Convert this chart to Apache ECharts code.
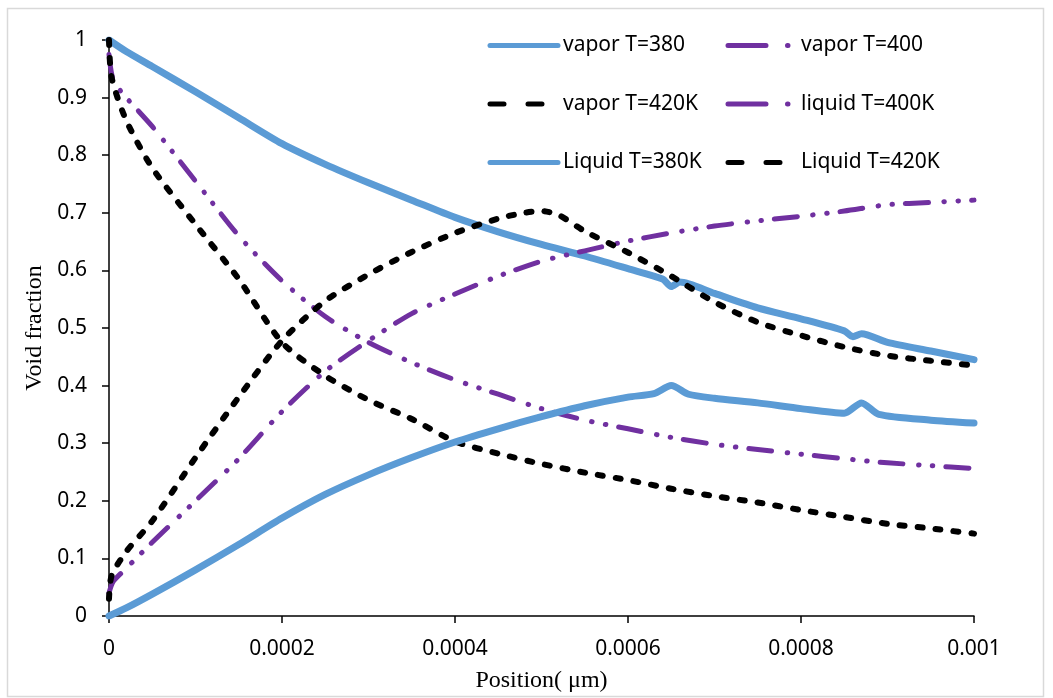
<!DOCTYPE html>
<html>
<head>
<meta charset="utf-8">
<script src="https://cdn.jsdelivr.net/npm/echarts@6/dist/echarts.min.js"></script>
<style>
html,body{margin:0;padding:0;background:#fff;}
#chart{width:1053px;height:698px;}
</style>
</head>
<body>
<div id="chart"></div>
<script>
// ---- data ----
const xTickLabels = ['0', '0.0002', '0.0004', '0.0006', '0.0008', '0.001'];
const yTickLabels = ['0', '0.1', '0.2', '0.3', '0.4', '0.5', '0.6', '0.7', '0.8', '0.9', '1'];

const vapor380X = [0, 0.00002, 0.00005, 0.0001, 0.00015, 0.0002, 0.00025, 0.0003, 0.00035, 0.0004, 0.00045, 0.0005, 0.00055, 0.0006, 0.00064, 0.00065, 0.00066, 0.0007, 0.00075, 0.0008, 0.00085, 0.00086, 0.00087, 0.0009, 0.00095, 0.001];
const vapor380Y = [1.0, 0.98, 0.954, 0.91, 0.865, 0.82, 0.784, 0.752, 0.722, 0.692, 0.667, 0.645, 0.625, 0.603, 0.585, 0.572, 0.58, 0.56, 0.535, 0.516, 0.495, 0.485, 0.49, 0.475, 0.46, 0.445];

const liquid380X = [0, 0.00002, 0.00005, 0.0001, 0.00015, 0.0002, 0.00025, 0.0003, 0.00035, 0.0004, 0.00045, 0.0005, 0.00055, 0.0006, 0.00063, 0.00065, 0.00067, 0.0007, 0.00075, 0.0008, 0.00085, 0.00087, 0.00089, 0.00095, 0.001];
const liquid380Y = [0, 0.014, 0.038, 0.08, 0.124, 0.17, 0.211, 0.245, 0.275, 0.302, 0.325, 0.346, 0.365, 0.38, 0.386, 0.4, 0.385, 0.378, 0.37, 0.36, 0.352, 0.37, 0.35, 0.34, 0.335];

const vapor400X = [0, 0.000005, 0.00002, 0.00005, 0.0001, 0.00015, 0.0002, 0.00025, 0.0003, 0.00035, 0.0004, 0.00045, 0.0005, 0.00055, 0.0006, 0.00065, 0.0007, 0.00075, 0.0008, 0.00085, 0.0009, 0.00095, 0.001];
const vapor400Y = [0.975, 0.93, 0.9, 0.85, 0.755, 0.66, 0.582, 0.52, 0.475, 0.44, 0.41, 0.385, 0.36, 0.34, 0.325, 0.31, 0.298, 0.289, 0.281, 0.273, 0.266, 0.261, 0.256];

const liquid400X = [0, 0.000005, 0.00002, 0.00005, 0.0001, 0.00015, 0.0002, 0.00025, 0.0003, 0.00035, 0.0004, 0.00045, 0.0005, 0.00055, 0.0006, 0.00065, 0.0007, 0.00075, 0.0008, 0.00085, 0.0009, 0.00095, 0.001];
const liquid400Y = [0.04, 0.06, 0.083, 0.128, 0.2, 0.273, 0.355, 0.425, 0.478, 0.525, 0.559, 0.59, 0.616, 0.634, 0.651, 0.665, 0.677, 0.686, 0.694, 0.703, 0.714, 0.718, 0.722];

const vapor420X = [0, 0.000003, 0.00002, 0.00005, 0.0001, 0.00015, 0.0002, 0.00025, 0.0003, 0.00035, 0.0004, 0.00045, 0.0005, 0.00055, 0.0006, 0.00065, 0.0007, 0.00075, 0.0008, 0.00085, 0.0009, 0.00095, 0.001];
const vapor420Y = [1.0, 0.935, 0.86, 0.778, 0.68, 0.585, 0.475, 0.417, 0.375, 0.342, 0.303, 0.282, 0.264, 0.249, 0.236, 0.221, 0.208, 0.197, 0.184, 0.172, 0.16, 0.152, 0.143];

const liquid420X = [0, 0.000003, 0.00002, 0.00005, 0.0001, 0.00015, 0.0002, 0.00025, 0.0003, 0.00035, 0.0004, 0.00045, 0.00048, 0.0005, 0.00052, 0.00055, 0.0006, 0.00065, 0.0007, 0.00075, 0.0008, 0.00085, 0.0009, 0.00095, 0.001];
const liquid420Y = [0.03, 0.07, 0.112, 0.165, 0.275, 0.38, 0.478, 0.547, 0.593, 0.632, 0.665, 0.69, 0.7, 0.703, 0.696, 0.668, 0.631, 0.59, 0.545, 0.51, 0.487, 0.467, 0.452, 0.443, 0.435];

// ---- styles ----
const BLUE = '#5B9BD5', PURPLE = '#7030A0', BLACK = '#000000';
const pairs = (xs, ys) => xs.map((x, i) => [x, ys[i]]);
const dashBlack = [5, 13];
const dashPurple = [23, 15.5, 0.5, 13.5, 0.5, 13];

function mk(name, xs, ys, color, type, width) {
  return {
    name: name, type: 'line', data: pairs(xs, ys),
    symbol: 'circle', symbolSize: 0, showSymbol: false,
    smooth: 0.25, silent: true,
    lineStyle: { color: color, width: width, type: type, cap: 'round', join: 'round' },
    itemStyle: { color: color },
    animation: false
  };
}

const hideSym = { opacity: 0, color: 'transparent', borderWidth: 0 };
const legendText = { fontSize: 21, fontFamily: 'Noto Sans', color: '#000', lineHeight: 20, padding: [0, 0, 0, 0] };
const solidL = { width: 5, type: 'solid', cap: 'round' };
const dashL = { width: 5, type: [14, 24], cap: 'round' };
const ddL = { width: 5, type: [38, 21.5, 0.5, 10], cap: 'round' };

const chart = echarts.init(document.getElementById('chart'), null, { renderer: 'canvas' });
chart.setOption({
  backgroundColor: '#ffffff',
  animation: false,
  graphic: [{
    type: 'rect', shape: { x: 7.5, y: 8.5, width: 1036, height: 688 },
    style: { fill: 'none', stroke: '#d9d9d9', lineWidth: 1.5 }, silent: true, z: -10
  }],
  grid: { left: 109, right: 79, top: 40, bottom: 80, containLabel: false },
  legend: [{
    orient: 'vertical', left: 482.5, top: 30, itemWidth: 68, itemHeight: 20, itemGap: 37.5,
    selectedMode: false, textStyle: legendText,
    data: [
      { name: 'vapor T=380', lineStyle: solidL, itemStyle: hideSym },
      { name: 'vapor T=420K', lineStyle: dashL, itemStyle: hideSym },
      { name: 'Liquid T=380K', lineStyle: solidL, itemStyle: hideSym }
    ]
  }, {
    orient: 'vertical', left: 720.5, top: 30, itemWidth: 68, itemHeight: 20, itemGap: 37.5,
    selectedMode: false, textStyle: legendText,
    data: [
      { name: 'vapor T=400', lineStyle: ddL, itemStyle: hideSym },
      { name: 'liquid T=400K', lineStyle: ddL, itemStyle: hideSym },
      { name: 'Liquid T=420K', lineStyle: dashL, itemStyle: hideSym }
    ]
  }],
  xAxis: {
    type: 'value', min: 0, max: 0.001, interval: 0.0002,
    name: 'Position( μm)', nameLocation: 'middle', nameGap: 53,
    nameTextStyle: { fontFamily: 'Liberation Serif', fontSize: 24, color: '#000' },
    axisLine: { show: true, lineStyle: { color: '#000', width: 1.5 } },
    axisTick: { show: true, length: 7, lineStyle: { color: '#000', width: 1.5 } },
    axisLabel: {
      fontFamily: 'Noto Sans', fontSize: 21, color: '#000', margin: 23,
      formatter: v => xTickLabels[Math.round(v / 0.0002)]
    },
    splitLine: { show: false }
  },
  yAxis: {
    type: 'value', min: 0, max: 1, interval: 0.1,
    name: 'Void fraction', nameLocation: 'middle', nameGap: 62, nameRotate: 90,
    nameTextStyle: { fontFamily: 'Liberation Serif', fontSize: 24, color: '#000' },
    axisLine: { show: true, lineStyle: { color: '#000', width: 1.5 } },
    axisTick: { show: true, length: 7, lineStyle: { color: '#000', width: 1.5 } },
    axisLabel: {
      fontFamily: 'Noto Sans', fontSize: 21, color: '#000', margin: 22,
      formatter: v => yTickLabels[Math.round(v / 0.1)]
    },
    splitLine: { show: false }
  },
  series: [
    mk('vapor T=380', vapor380X, vapor380Y, BLUE, 'solid', 7),
    mk('vapor T=400', vapor400X, vapor400Y, PURPLE, dashPurple, 5),
    mk('vapor T=420K', vapor420X, vapor420Y, BLACK, dashBlack, 6),
    mk('liquid T=400K', liquid400X, liquid400Y, PURPLE, dashPurple, 5),
    mk('Liquid T=380K', liquid380X, liquid380Y, BLUE, 'solid', 7),
    mk('Liquid T=420K', liquid420X, liquid420Y, BLACK, dashBlack, 6)
  ]
});
</script>
</body>
</html>
